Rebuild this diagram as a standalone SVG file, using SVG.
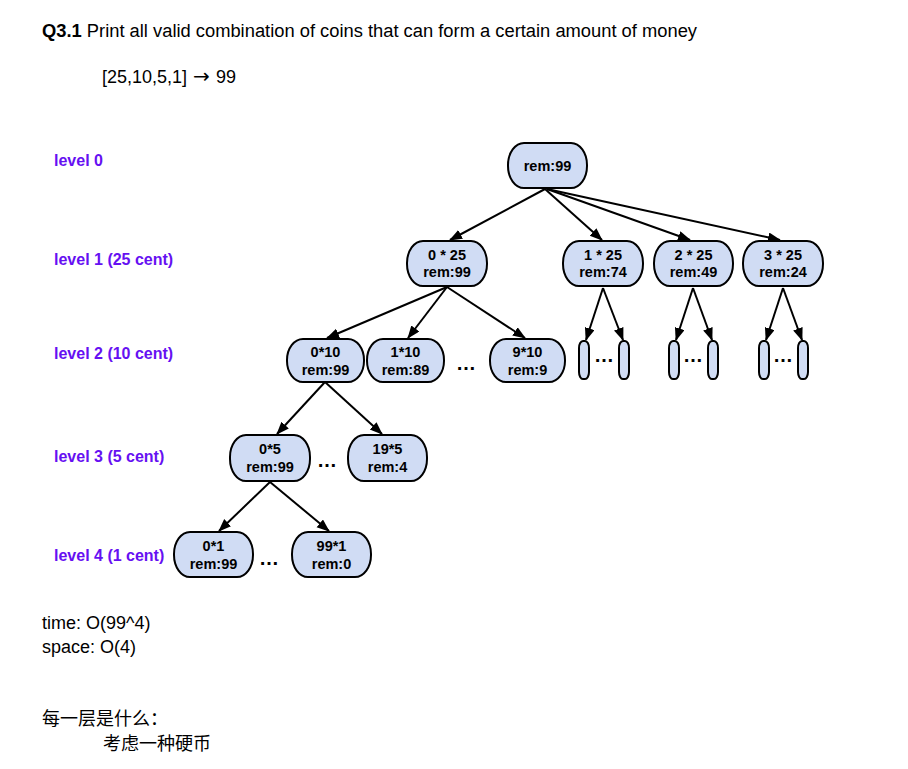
<svg xmlns="http://www.w3.org/2000/svg" width="908" height="769" viewBox="0 0 908 769">
<style>
.t{font-family:"Liberation Sans",Arial,sans-serif;fill:#000}
.n rect{fill:#d0dcf4;stroke:#000;stroke-width:2}
.nt{font-family:"Liberation Sans",Arial,sans-serif;font-weight:bold;font-size:14.5px;fill:#000;text-anchor:middle}
.lv{font-family:"Liberation Sans",Arial,sans-serif;font-weight:bold;font-size:16px;fill:#6610f2}
.dots{font-family:"Liberation Sans",Arial,sans-serif;font-weight:bold;font-size:20px;fill:#000;text-anchor:middle}
.c line{stroke:#000;stroke-width:2;marker-end:url(#ah)}
.cjk{font-family:"Liberation Sans","Noto Sans CJK SC",sans-serif;font-size:18px;fill:#000}
</style>
<defs>
<marker id="ah" markerUnits="userSpaceOnUse" markerWidth="14" markerHeight="12" refX="12" refY="5" orient="auto">
<path d="M0,0 L13,5 L0,10 Z" fill="#000"/>
</marker>
</defs>
<rect width="908" height="769" fill="#fff"/>
<text class="t" x="42" y="37" font-size="18" textLength="655" lengthAdjust="spacingAndGlyphs"><tspan font-weight="bold">Q3.1</tspan> Print all valid combination of coins that can form a certain amount of money</text>
<text class="t" x="102" y="83" font-size="18">[25,10,5,1]<tspan x="193" font-family="DejaVu Sans,sans-serif" font-size="20">→</tspan><tspan x="216">99</tspan></text>

<g id="labels">
<text class="lv" x="54" y="166">level 0</text>
<text class="lv" x="54" y="265">level 1 (25 cent)</text>
<text class="lv" x="54" y="359">level 2 (10 cent)</text>
<text class="lv" x="54" y="462">level 3 (5 cent)</text>
<text class="lv" x="54" y="561">level 4 (1 cent)</text>
</g>

<g id="connectors" class="c">
<line x1="545" y1="189" x2="450" y2="240"/>
<line x1="545" y1="189" x2="602" y2="240"/>
<line x1="547" y1="189" x2="690" y2="240"/>
<line x1="547" y1="189" x2="780" y2="240"/>
<line x1="447" y1="287" x2="327" y2="338"/>
<line x1="447" y1="287" x2="408" y2="338"/>
<line x1="447" y1="287" x2="525" y2="338"/>
<line x1="603" y1="288" x2="586" y2="340"/>
<line x1="603" y1="288" x2="623" y2="340"/>
<line x1="693" y1="288" x2="676" y2="340"/>
<line x1="693" y1="288" x2="712" y2="340"/>
<line x1="783" y1="288" x2="766" y2="340"/>
<line x1="783" y1="288" x2="802" y2="340"/>
<line x1="325" y1="382" x2="277" y2="434"/>
<line x1="325" y1="382" x2="382" y2="434"/>
<line x1="270" y1="482" x2="219" y2="531"/>
<line x1="270" y1="482" x2="329" y2="531"/>
</g>

<g id="root" class="n"><rect x="508" y="143" width="79" height="45" rx="16" ry="22"/><text class="nt" x="547.5" y="171">rem:99</text></g>

<g id="l1a" class="n"><rect x="407" y="241" width="80" height="45" rx="16" ry="22"/><text class="nt" x="447" y="260">0 * 25</text><text class="nt" x="447" y="277">rem:99</text></g>
<g id="l1b" class="n"><rect x="563" y="241" width="80" height="45" rx="16" ry="22"/><text class="nt" x="603" y="260">1 * 25</text><text class="nt" x="603" y="277">rem:74</text></g>
<g id="l1c" class="n"><rect x="654" y="241" width="79" height="45" rx="16" ry="22"/><text class="nt" x="693.5" y="260">2 * 25</text><text class="nt" x="693.5" y="277">rem:49</text></g>
<g id="l1d" class="n"><rect x="743" y="241" width="80" height="45" rx="16" ry="22"/><text class="nt" x="783" y="260">3 * 25</text><text class="nt" x="783" y="277">rem:24</text></g>

<g id="l2a" class="n"><rect x="287" y="339" width="77" height="43" rx="16" ry="21"/><text class="nt" x="325.5" y="357">0*10</text><text class="nt" x="325.5" y="375">rem:99</text></g>
<g id="l2b" class="n"><rect x="367" y="339" width="77" height="43" rx="16" ry="21"/><text class="nt" x="405.5" y="357">1*10</text><text class="nt" x="405.5" y="375">rem:89</text></g>
<text class="dots" x="466" y="370">…</text>
<g id="l2c" class="n"><rect x="490" y="339" width="75" height="43" rx="16" ry="21"/><text class="nt" x="527.5" y="357">9*10</text><text class="nt" x="527.5" y="375">rem:9</text></g>

<g id="s1a" class="n"><rect x="579" y="341" width="10" height="38" rx="4" ry="7"/></g>
<text class="dots" x="604" y="362">…</text>
<g id="s1b" class="n"><rect x="619" y="341" width="10" height="38" rx="4" ry="7"/></g>
<g id="s2a" class="n"><rect x="669" y="341" width="10" height="38" rx="4" ry="7"/></g>
<text class="dots" x="693" y="362">…</text>
<g id="s2b" class="n"><rect x="708" y="341" width="10" height="38" rx="4" ry="7"/></g>
<g id="s3a" class="n"><rect x="759" y="341" width="10" height="38" rx="4" ry="7"/></g>
<text class="dots" x="783" y="362">…</text>
<g id="s3b" class="n"><rect x="798" y="341" width="10" height="38" rx="4" ry="7"/></g>

<g id="l3a" class="n"><rect x="230" y="435" width="80" height="46" rx="16" ry="22"/><text class="nt" x="270" y="454">0*5</text><text class="nt" x="270" y="472">rem:99</text></g>
<text class="dots" x="327" y="467">…</text>
<g id="l3b" class="n"><rect x="348" y="435" width="79" height="46" rx="16" ry="22"/><text class="nt" x="387.5" y="454">19*5</text><text class="nt" x="387.5" y="472">rem:4</text></g>

<g id="l4a" class="n"><rect x="174" y="532" width="79" height="45" rx="16" ry="22"/><text class="nt" x="213.5" y="551">0*1</text><text class="nt" x="213.5" y="569">rem:99</text></g>
<text class="dots" x="269" y="565">…</text>
<g id="l4b" class="n"><rect x="292" y="532" width="79" height="45" rx="16" ry="22"/><text class="nt" x="331.5" y="551">99*1</text><text class="nt" x="331.5" y="569">rem:0</text></g>

<text class="t" x="42" y="629" font-size="18">time: O(99^4)</text>
<text class="t" x="42" y="653" font-size="18">space: O(4)</text>
<text class="cjk" x="42" y="725">每一层是什么：</text>
<text class="cjk" x="103" y="750">考虑一种硬币</text>
</svg>
